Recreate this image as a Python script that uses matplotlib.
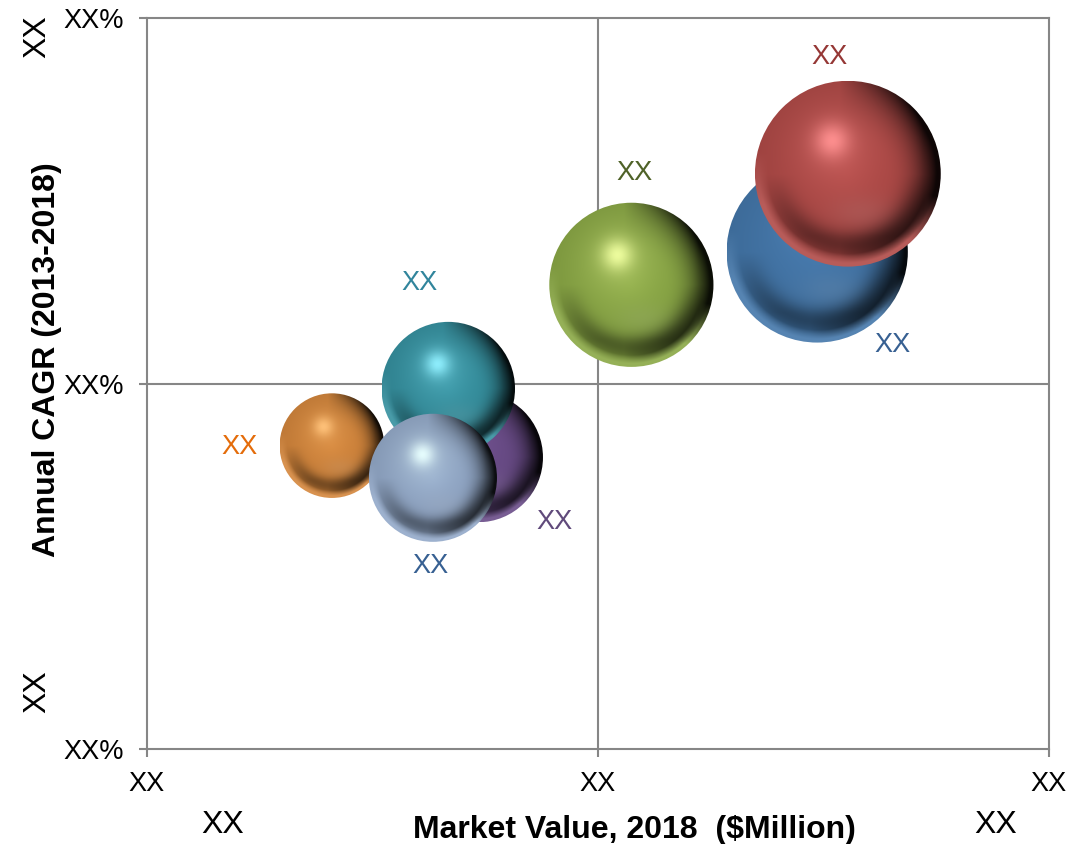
import matplotlib
matplotlib.use("Agg")
import matplotlib.pyplot as plt
import numpy as np
from matplotlib.colors import to_rgb
from matplotlib.patches import Ellipse

plt.rcParams['font.family'] = ['Liberation Sans', 'DejaVu Sans']

# drawing order is back to front
names = ['blue', 'red', 'purple', 'green', 'orange', 'teal', 'light']
market_value = [743, 777, 367, 537, 205, 334, 317]
cagr = [68.0, 78.7, 39.9, 63.5, 41.5, 49.3, 37.1]
bubble_size = [100.5, 103, 72, 91, 58, 74, 71]
bubble_labels = ['XX', 'XX', 'XX', 'XX', 'XX', 'XX', 'XX']
label_x = [827, 757, 452, 540, 103, 302, 314]
label_y = [55.3, 94.7, 31.1, 78.8, 41.3, 63.7, 25.0]

x_ticks = [0, 500, 1000]
y_ticks = [0, 50, 100]

base_colors = ['#4477aa', '#b04a47', '#6a4c88', '#8aa845', '#d4863c', '#35909f', '#93a9c9']
glow_colors = ['#5b8fc4', '#ff9090', '#8a68ab', '#f0ffa0', '#ffc27a', '#90f0ff', '#e8ffff']
text_colors = ['#376092', '#953735', '#604a7b', '#4f6228', '#e46c0a', '#31859c', '#376092']
grey = '#868686'


def sphere(base, glow, n=300):
    # simple shaded ball, light from top left
    v, u = np.mgrid[1:-1:n*1j, -1:1:n*1j]
    r = np.sqrt(u**2 + v**2)
    base = np.array(to_rgb(base))
    glow = np.array(to_rgb(glow))
    # darker to the right
    dark = 0.95*np.clip((r - 0.4)/0.6, 0, 1)**2*np.clip(0.1 + 1.1*u, 0, 1)
    # soft crescent low on the ball
    dark += 0.36*np.exp(-((r - 0.76)/0.16)**2)*np.clip(-v*1.5, 0, 1)
    dark += 0.1*np.clip(r, 0, 1)
    dark = np.clip(dark, 0, 0.92)[..., None]
    img = base*(1 - dark)
    # soft highlight
    spot = 0.95*np.exp(-((u + 0.17)**2 + (v - 0.36)**2)/0.035)[..., None]
    halo = 0.22*np.exp(-((u + 0.15)**2 + (v - 0.3)**2)/0.22)[..., None]
    img = img*(1 - halo) + glow*halo
    img = img*(1 - spot) + glow*spot
    # reflected light low on the ball and on the bottom rim
    low = 0.22*np.exp(-((u - 0.15)**2/0.12 + (v + 0.42)**2/0.035))[..., None]
    img = img + (base*0.5 + 0.35 - img)*low
    rim = np.clip((r - 0.86)/0.1, 0, 1)*np.clip(-v*1.8 - 0.45*u, 0, 1)
    rim = rim[..., None]
    img = img*(1 - rim) + (base*0.9 + 0.1)*rim
    return np.clip(img, 0, 1)


fig = plt.figure(figsize=(10.68, 8.44), dpi=100)
ax = fig.add_axes([147/1068, 95/844, 902/1068, 731/844])
yscale = 100/1000*902/731  # keeps the bubbles round

ax.axvline(500, color=grey, lw=1.5, zorder=1)
ax.axhline(50, color=grey, lw=1.5, zorder=1)

for i in range(len(names)):
    dx = bubble_size[i]
    dy = bubble_size[i]*yscale
    cx, cy = market_value[i], cagr[i]
    im = ax.imshow(sphere(base_colors[i], glow_colors[i]), extent=[cx-dx, cx+dx, cy-dy, cy+dy],
                   aspect='auto', interpolation='bilinear', zorder=2+i)
    clip = Ellipse((cx, cy), 2*dx, 2*dy, transform=ax.transData)
    im.set_clip_path(clip)
    ax.text(label_x[i], label_y[i], bubble_labels[i], color=text_colors[i], fontsize=19.5,
            ha='center', va='center', zorder=20)

ax.set_xlim(0, 1000)
ax.set_ylim(0, 100)
ax.set_xticks(x_ticks)
ax.set_xticklabels(['XX', 'XX', 'XX'])
ax.set_yticks(y_ticks)
ax.set_yticklabels(['XX%', 'XX%', 'XX%'])
ax.tick_params(axis='both', length=5.5, width=1.5, color=grey, labelsize=19.5, labelcolor='black')
ax.tick_params(axis='x', pad=10)
ax.tick_params(axis='y', pad=11)
for s in ax.spines.values():
    s.set_color(grey)
    s.set_linewidth(1.5)

# loose labels round the axes
fig.text(37/1068, 1-37/844, 'XX', fontsize=23, rotation=90, ha='center', va='center')
fig.text(37/1068, 1-692/844, 'XX', fontsize=23, rotation=90, ha='center', va='center')
fig.text(223/1068, 1-825/844, 'XX', fontsize=23, ha='center', va='center')
fig.text(996/1068, 1-825/844, 'XX', fontsize=23, ha='center', va='center')
fig.text(634/1068, 1-830/844, 'Market Value, 2018  ($Million)', fontsize=23, fontweight='bold',
         ha='center', va='center')
fig.text(47/1068, 1-360/844, 'Annual CAGR (2013-2018)', fontsize=23, fontweight='bold',
         rotation=90, ha='center', va='center')

fig.savefig('out.png', dpi=100)
